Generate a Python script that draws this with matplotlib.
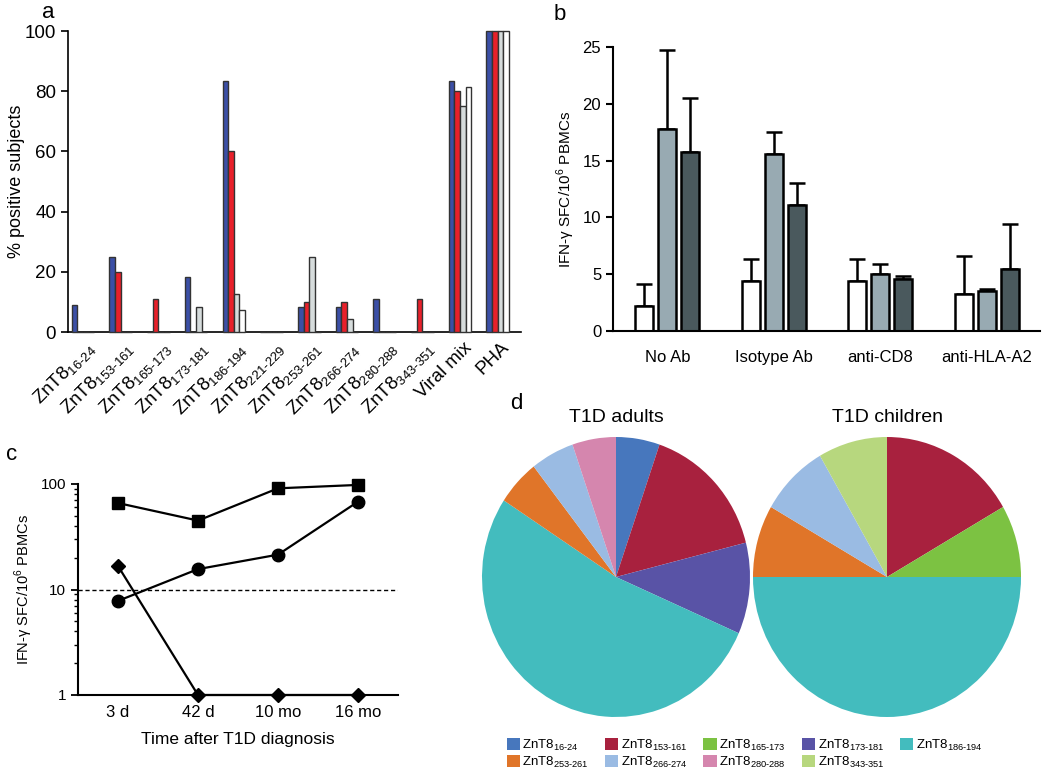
import matplotlib
matplotlib.use("Agg")
import matplotlib.pyplot as plt
import numpy as np
from matplotlib.patches import Patch
import matplotlib.transforms as mtransforms

plt.rcParams['font.family'] = ['Liberation Sans', 'DejaVu Sans']
plt.rcParams['mathtext.fontset'] = 'custom'
plt.rcParams['mathtext.rm'] = 'Liberation Sans'

# ---------------- data ----------------
# panel a
a_epitopes = ["16-24", "153-161", "165-173", "173-181", "186-194", "221-229",
              "253-261", "266-274", "280-288", "343-351"]
a_extra = ["Viral mix", "PHA"]
a_blue = [9, 25, 0, 18.3, 83.5, 0, 8.3, 8.3, 11, 0, 83.5, 100]
a_red = [0, 20, 11, 0, 60, 0, 10, 10, 0, 11, 80, 100]
a_grey = [0, 0, 0, 8.3, 12.5, 0, 25, 4.2, 0, 0, 75, 100]
a_white = [0, 0, 0, 0, 7.4, 0, 0, 0, 0, 0, 81.5, 100]

# panel b
b_groups = ["No Ab", "Isotype Ab", "anti-CD8", "anti-HLA-A2"]
b_white = [2.2, 4.4, 4.4, 3.3]
b_white_err = [1.9, 1.9, 1.9, 3.3]
b_light = [17.8, 15.6, 5.0, 3.5]
b_light_err = [6.9, 1.9, 0.9, 0.2]
b_dark = [15.8, 11.1, 4.6, 5.5]
b_dark_err = [4.7, 1.9, 0.25, 3.9]

# panel c
c_times = ["3 d", "42 d", "10 mo", "16 mo"]
c_square = [66, 45, 91, 98]
c_circle = [7.8, 15.6, 21.4, 68]
c_diamond = [16.7, 1, 1, 1]

# panel d
d_labels = ["16-24", "153-161", "165-173", "173-181", "186-194",
            "253-261", "266-274", "280-288", "343-351"]
d_colors = ["#4777bd", "#a8213e", "#7cc242", "#5953a6", "#43bcbe",
            "#e07529", "#9abbe3", "#d586ae", "#b7d77e"]
adult_order = ["16-24", "153-161", "173-181", "186-194", "253-261", "266-274", "280-288"]
adult_counts = [1, 3, 2, 10, 1, 1, 1]
child_order = ["153-161", "165-173", "186-194", "253-261", "266-274", "343-351"]
child_counts = [2, 1, 6, 1, 1, 1]

W, H = 1050, 775
fig = plt.figure(figsize=(W / 100, H / 100), dpi=100)


def pax(l, t, r, b):
    return fig.add_axes([l / W, 1 - b / H, (r - l) / W, (b - t) / H])


def sub(s):
    return "ZnT8$_{\\mathregular{" + s.replace("-", "\u2010") + "}}$"


# ---------------- panel a ----------------
ax = pax(68, 31, 521, 332)
n = len(a_blue)
x = np.arange(n)
bw = 0.15
cols = ["#3b4fa6", "#e8202a", "#d6dcdc", "#ffffff"]
for k, (vals, c) in enumerate(zip([a_blue, a_red, a_grey, a_white], cols)):
    ax.bar(x - 0.225 + k * bw, vals, bw, color=c, edgecolor="#333333", linewidth=1.0,
           clip_on=False, zorder=3)
ax.set_xlim(-0.4, 11.62)
ax.set_ylim(0, 100)
ax.set_yticks([0, 20, 40, 60, 80, 100])
ax.tick_params(axis='y', labelsize=13.5, length=5, width=1.2)
ax.tick_params(axis='x', length=0, labelsize=13.5, pad=5)
ax.set_xticks(x)
labs = ax.set_xticklabels([sub(e) for e in a_epitopes] + a_extra, rotation=45,
                          ha='right', rotation_mode='anchor')
off = mtransforms.ScaledTranslation(3 / 100, 0, fig.dpi_scale_trans)
for t in labs:
    t.set_transform(t.get_transform() + off)
for s in ['top', 'right']:
    ax.spines[s].set_visible(False)
for s in ['left', 'bottom']:
    ax.spines[s].set_linewidth(1.2)
ax.set_ylabel("% positive subjects", fontsize=13)
ax.yaxis.set_label_coords(-0.095, 0.5)

# ---------------- panel b ----------------
bx = pax(613, 47, 1040, 331)
xb = np.arange(len(b_groups))
wb = 0.168
offs = [-0.215, 0, 0.215]
for o, vals, errs, c in zip(offs, [b_white, b_light, b_dark],
                             [b_white_err, b_light_err, b_dark_err],
                             ["#ffffff", "#98aab2", "#4a595d"]):
    bx.bar(xb + o, vals, wb, color=c, edgecolor="black", linewidth=1.8, zorder=2)
    bx.errorbar(xb + o, vals, yerr=[np.zeros(len(vals)), errs], fmt='none',
                ecolor='black', elinewidth=1.8, capsize=5.5, capthick=1.8, zorder=1)
bx.set_xlim(-0.51, 3.5)
bx.set_ylim(0, 25)
bx.set_yticks([0, 5, 10, 15, 20, 25])
bx.set_xticks(xb)
bx.set_xticklabels(b_groups)
bx.tick_params(axis='y', labelsize=12, length=5, width=1.5)
bx.tick_params(axis='x', length=0, labelsize=12, pad=14)
for s in ['top', 'right']:
    bx.spines[s].set_visible(False)
for s in ['left', 'bottom']:
    bx.spines[s].set_linewidth(1.5)
bx.set_ylabel("IFN-\u03b3 SFC/10$^{\\mathregular{6}}$ PBMCs", fontsize=11)

# ---------------- panel c ----------------
cx = pax(78, 484, 398, 695)
xc = np.arange(len(c_times))
cx.plot(xc, c_square, '-s', color='black', ms=9, lw=1.6, clip_on=False, zorder=3)
cx.plot(xc, c_circle, '-o', color='black', ms=9, lw=1.6, clip_on=False, zorder=3)
cx.plot(xc, c_diamond, '-D', color='black', ms=7.5, lw=1.6, clip_on=False, zorder=3)
cx.axhline(10, color='black', lw=1, ls=(0, (3, 2)), zorder=1)
cx.set_yscale('log')
cx.set_ylim(1, 100)
cx.set_xlim(-0.5, 3.5)
cx.set_yticks([1, 10, 100])
cx.set_yticklabels(["1", "10", "100"])
cx.set_xticks(xc)
cx.set_xticklabels(c_times)
cx.tick_params(axis='y', which='major', labelsize=11, length=5, width=1.3)
cx.tick_params(axis='y', which='minor', length=3, width=1)
cx.tick_params(axis='x', length=0, labelsize=12, pad=7)
for s in ['top', 'right']:
    cx.spines[s].set_visible(False)
for s in ['left', 'bottom']:
    cx.spines[s].set_linewidth(1.5)
cx.set_xlabel("Time after T1D diagnosis", fontsize=12.5, labelpad=9)
cx.set_ylabel("IFN-\u03b3 SFC/10$^{\\mathregular{6}}$ PBMCs", fontsize=10.5)

# ---------------- panel d ----------------
cmap = dict(zip(d_labels, d_colors))
for (cxp, title, order, counts) in [(616, "T1D adults", adult_order, adult_counts),
                                    (887, "T1D children", child_order, child_counts)]:
    rx, ry = 134, 140
    pa = pax(cxp - rx, 577 - ry, cxp + rx, 577 + ry)
    pa.pie(counts, colors=[cmap[o] for o in order], startangle=90, counterclock=False,
           wedgeprops=dict(linewidth=0))
    pa.set_aspect('auto')
    pa.set_xlim(-1, 1)
    pa.set_ylim(-1, 1)
    fig.text(cxp / W, 1 - 418 / H, title, ha='center', va='center', fontsize=14)

handles = [Patch(facecolor=c, edgecolor='none') for c in d_colors]
labels = [sub(l) for l in d_labels]
order_idx = [0, 5, 1, 6, 2, 7, 3, 8, 4]
fig.legend([handles[i] for i in order_idx], [labels[i] for i in order_idx],
           ncol=5, loc='upper left', bbox_to_anchor=(500 / W, 1 - 731 / H),
           frameon=False, fontsize=9.5, handlelength=1.0, handleheight=1.0,
           handletextpad=0.2, columnspacing=1.2, labelspacing=0.15, borderpad=0)

# panel letters
for s, (px, py) in zip("abcd", [(48, 12), (560, 14), (12, 455), (516, 404)]):
    fig.text(px / W, 1 - py / H, s, fontsize=16, ha='center', va='center')

fig.savefig("out.png", dpi=100)
